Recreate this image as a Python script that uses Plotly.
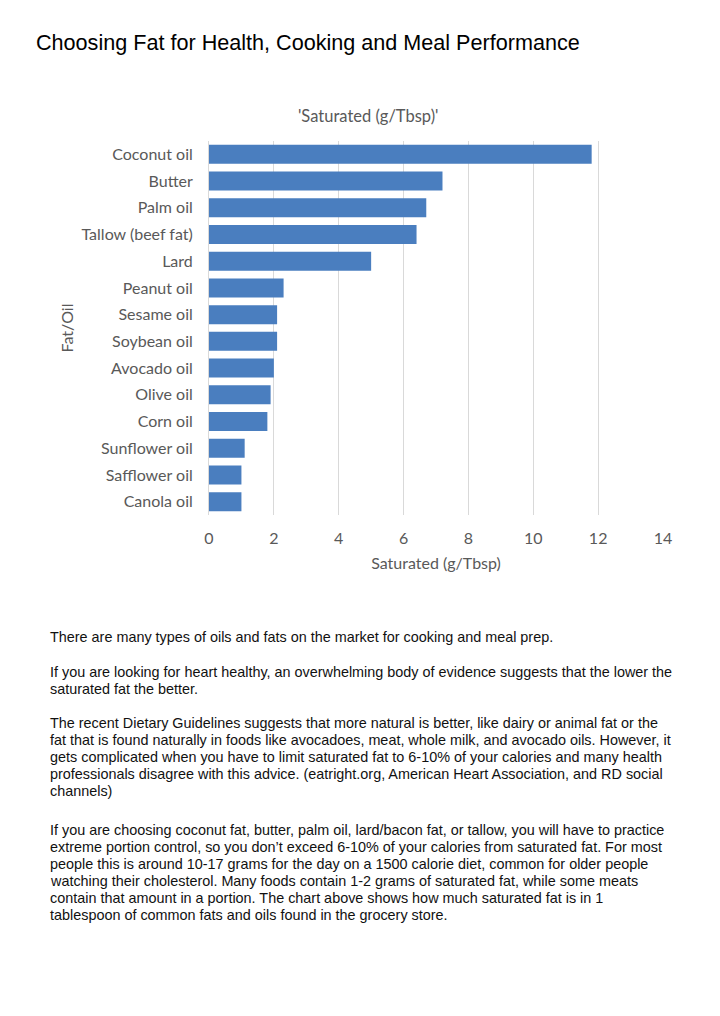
import plotly.graph_objects as go

categories = ["Coconut oil", "Butter", "Palm oil", "Tallow (beef fat)", "Lard", "Peanut oil",
              "Sesame oil", "Soybean oil", "Avocado oil", "Olive oil", "Corn oil",
              "Sunflower oil", "Safflower oil", "Canola oil"]
saturated = [11.8, 7.2, 6.7, 6.4, 5.0, 2.3, 2.1, 2.1, 2.0, 1.9, 1.8, 1.1, 1.0, 1.0]
x_ticks = [0, 2, 4, 6, 8, 10, 12, 14]

paragraph_lines = [
    (636, "There are many types of oils and fats on the market for cooking and meal prep."),
    (671, "If you are looking for heart healthy, an overwhelming body of evidence suggests that the lower the"),
    (688, "saturated fat the better."),
    (722, "The recent Dietary Guidelines suggests that more natural is better, like dairy or animal fat or the"),
    (739, "fat that is found naturally in foods like avocadoes, meat, whole milk, and avocado oils. However, it"),
    (756, "gets complicated when you have to limit saturated fat to 6-10% of your calories and many health"),
    (773, "professionals disagree with this advice. (eatright.org, American Heart Association, and RD social"),
    (790, "channels)"),
    (829, "If you are choosing coconut fat, butter, palm oil, lard/bacon fat, or tallow, you will have to practice"),
    (846, "extreme portion control, so you don\u2019t exceed 6-10% of your calories from saturated fat. For most"),
    (863, "people this is around 10-17 grams for the day on a 1500 calorie diet, common for older people"),
    (880, "watching their cholesterol. Many foods contain 1-2 grams of saturated fat, while some meats"),
    (897, "contain that amount in a portion. The chart above shows how much saturated fat is in 1"),
    (914, "tablespoon of common fats and oils found in the grocery store."),
]

OFF = 8  # page body margin
W, H = 720, 1016
L, R, T, B = 209 - OFF, 663 - OFF, 141 - OFF, 515 - OFF

def px(xp):
    return (xp - OFF - L) / (R - L)

def py(yp):
    return (B - (yp - OFF)) / (B - T)

chart_font = "Lato, Open Sans, sans-serif"
gray = "#595959"

fig = go.Figure(go.Bar(
    x=saturated, y=categories, orientation="h",
    marker=dict(color="#4a7ebf", line=dict(width=0)),
))

annotations = [
    dict(text="Choosing Fat for Health, Cooking and Meal Performance", x=px(34), y=py(42),
         xref="paper", yref="paper", xanchor="left", yanchor="middle", showarrow=False,
         font=dict(family="Liberation Sans, Arial, sans-serif", size=21.6, color="#000000")),
    dict(text="'Saturated (g/Tbsp)'", x=px(368), y=py(116),
         xref="paper", yref="paper", xanchor="center", yanchor="middle", showarrow=False,
         font=dict(family=chart_font, size=16.5, color=gray)),
]
for yline, txt in paragraph_lines:
    annotations.append(dict(text=txt, x=px(48), y=py(yline + 1), xref="paper", yref="paper",
                            xanchor="left", yanchor="middle", showarrow=False,
                            font=dict(family="Liberation Sans, Arial, sans-serif", size=14.4, color="#111111")))

fig.update_layout(
    width=W, height=H,
    margin=dict(l=L, r=W - R, t=T, b=H - B, pad=0),
    paper_bgcolor="white", plot_bgcolor="white",
    showlegend=False,
    bargap=0.29,
    annotations=annotations,
    xaxis=dict(range=[0, 14], tickvals=x_ticks, showgrid=True, gridcolor="#d9d9d9", gridwidth=1,
               zeroline=False, showline=False, ticks="", ticklen=0,
               tickfont=dict(family=chart_font, size=16, color=gray), ticklabelstandoff=12,
               title=dict(text="Saturated (g/Tbsp)", font=dict(family=chart_font, size=16, color=gray), standoff=11)),
    yaxis=dict(autorange="reversed", categoryorder="array", categoryarray=categories,
               showgrid=False, zeroline=False, showline=True, linecolor="#d9d9d9", linewidth=1,
               ticks="", tickfont=dict(family=chart_font, size=16, color=gray), ticklabelstandoff=12,
               title=dict(text="Fat/Oil", font=dict(family=chart_font, size=16, color=gray), standoff=3)),
)

fig.write_html("out.html")
